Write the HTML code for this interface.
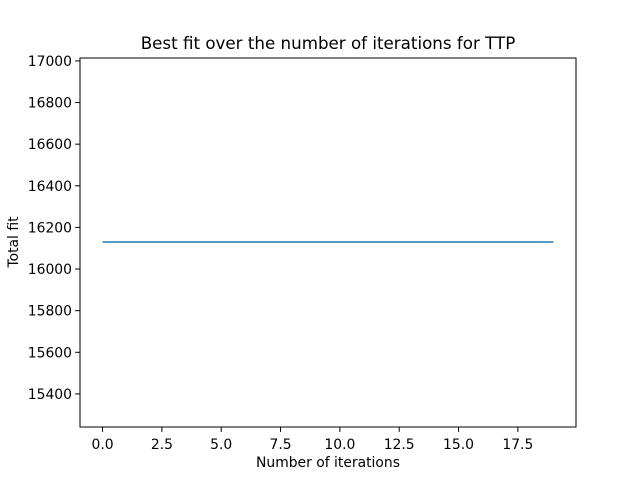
<!DOCTYPE html>
<html><head><meta charset="utf-8"><style>
body{margin:0;background:#fff;}
svg{display:block;font-family:"DejaVu Sans","Liberation Sans",sans-serif;}
</style></head><body>
<svg id="chart" width="640" height="480">
<rect width="640" height="480" fill="#fff"/>
<text x="328" y="49" font-size="16.7" text-anchor="middle">Best fit over the number of iterations for TTP</text>
<text x="328" y="467" font-size="13.9" text-anchor="middle">Number of iterations</text>
<text x="18" y="242" font-size="13.9" text-anchor="middle" transform="rotate(-90 18 242)">Total fit</text>
<g id="ticks"></g>
<g id="series"></g>
<rect x="80" y="58" width="496" height="369" fill="none" stroke="#000" stroke-width="1"/>
</svg>
<script>
const iterations = [0,1,2,3,4,5,6,7,8,9,10,11,12,13,14,15,16,17,18,19];
const bestFit = [16130,16130,16130,16130,16130,16130,16130,16130,16130,16130,16130,16130,16130,16130,16130,16130,16130,16130,16130,16130];
const xTicks = [0,2.5,5,7.5,10,12.5,15,17.5];
const xTickLabels = ["0.0","2.5","5.0","7.5","10.0","12.5","15.0","17.5"];
const yTicks = [15400,15600,15800,16000,16200,16400,16600,16800,17000];

const L=80,R=576,T=58,B=427;
const xMin=-0.95,xMax=19.95,yMin=15241,yMax=17014;
const sx=v=>L+(v-xMin)/(xMax-xMin)*(R-L);
const sy=v=>B-(v-yMin)/(yMax-yMin)*(B-T);
const NS="http://www.w3.org/2000/svg";
const tg=document.getElementById('ticks');
function mk(tag,attrs,parent){const e=document.createElementNS(NS,tag);for(const k in attrs)e.setAttribute(k,attrs[k]);parent.appendChild(e);return e;}
xTicks.forEach((v,i)=>{
  const x=sx(v);
  const l=mk('line',{x1:x,x2:x,y1:B,y2:B+4.9,stroke:'#000'},tg);
  
  
  const t=mk('text',{x:x,y:B+22,'font-size':13.9,'text-anchor':'middle'},tg);
  t.textContent=xTickLabels[i];
  
  
});
yTicks.forEach(v=>{
  const y=sy(v);
  const l=mk('line',{x1:L-4.9,x2:L,y1:y,y2:y,stroke:'#000'},tg);
  
  
  const t=mk('text',{x:L-8,y:y+5,'font-size':13.9,'text-anchor':'end'},tg);
  t.textContent=v;
  
  
});
const pts=iterations.map((x,i)=>sx(x)+','+sy(bestFit[i])).join(' ');
const pl=mk('polyline',{points:pts,fill:'none',stroke:'#1f77b4','stroke-width':1.5},document.getElementById('series'));


</script>
</body></html>
